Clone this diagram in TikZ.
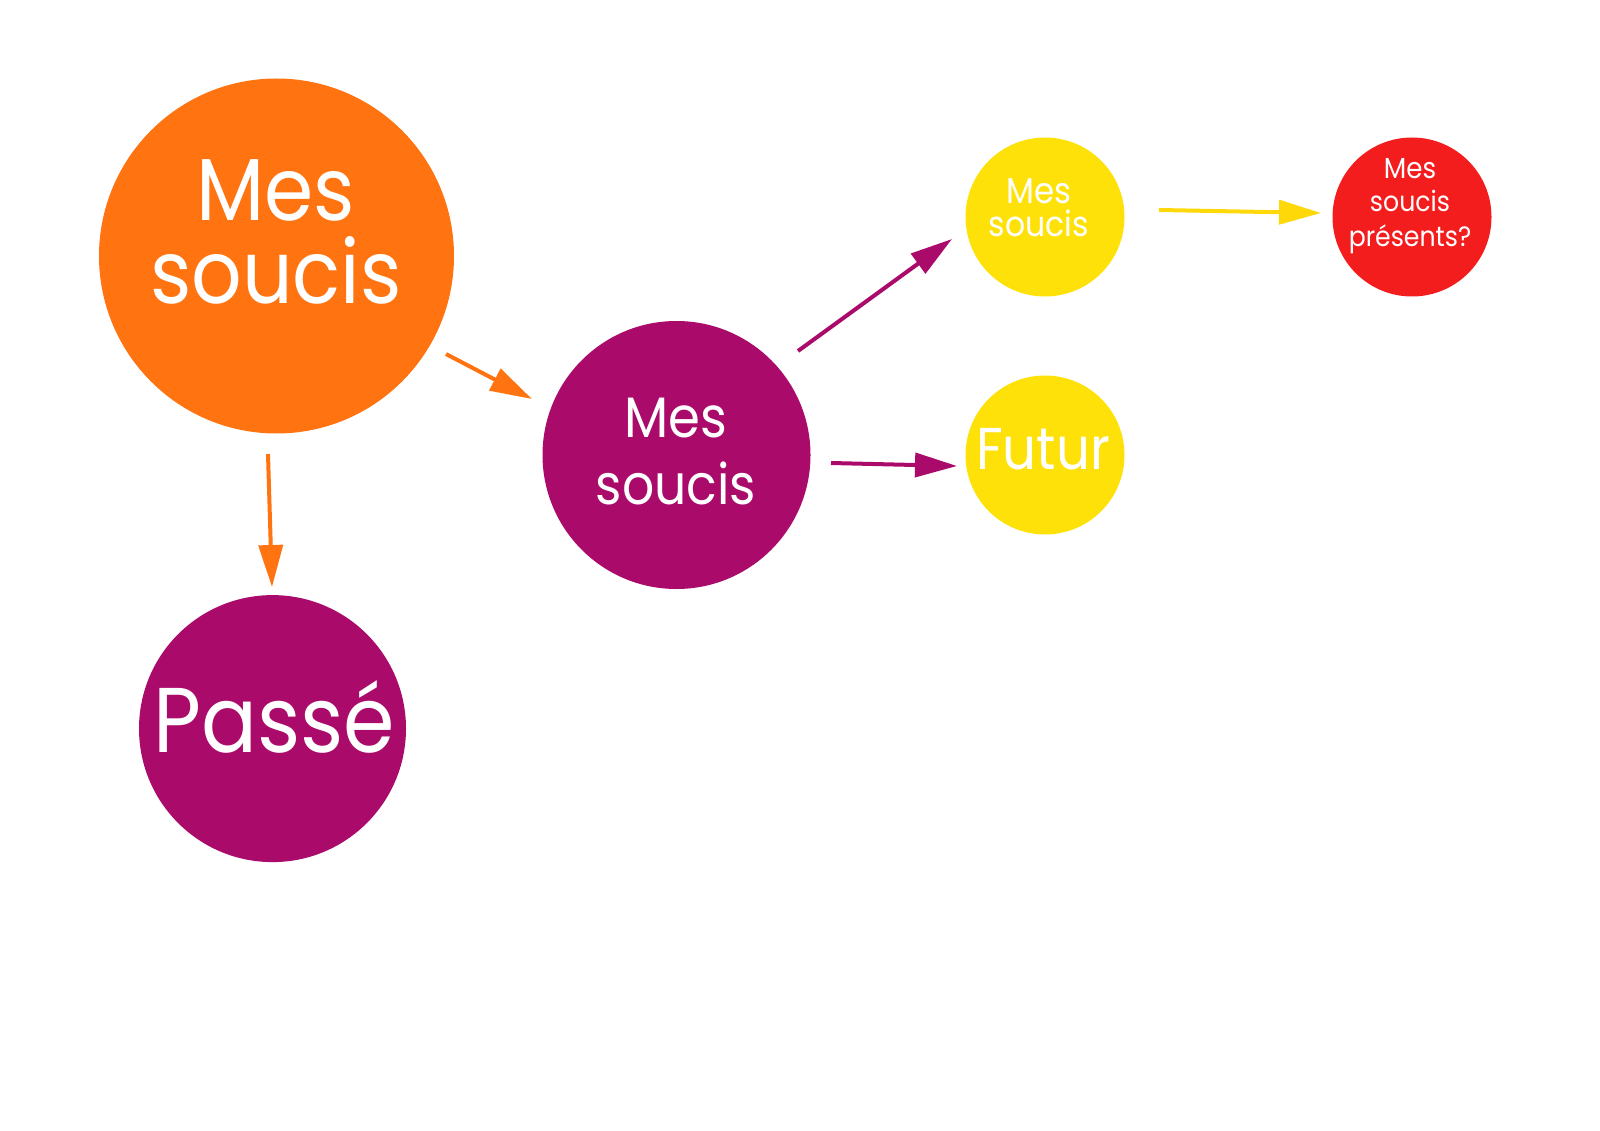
\documentclass[tikz,border=0pt]{standalone}
\usepackage{fontspec}
\setmainfont{Poppins}[FakeStretch=0.9]
\usetikzlibrary{arrows.meta}
\definecolor{cOrange}{HTML}{FF7410}
\definecolor{cMag}{HTML}{AA0A69}
\definecolor{cYel}{HTML}{FFE10A}
\definecolor{cYelArr}{HTML}{FFD80A}
\definecolor{cRed}{HTML}{F41D1E}
\tikzset{
  blob/.style={circle, inner sep=0pt, minimum size=#1},
  lbl/.style={anchor=base, text=white, inner sep=0pt, font=\fontsize{#1}{#1}\selectfont},
  arr/.style={line width=4pt, -{Triangle[length=42pt, width=24pt]}},
}
\begin{document}
\begin{tikzpicture}[x=1pt,y=-1pt]
\useasboundingbox (0,0) rectangle (1600,1131);
% circles
\node[blob=355pt, fill=cOrange] (big) at (276.5,256) {};
\node[blob=267pt, fill=cMag] (past) at (272.5,728.6) {};
\node[blob=268pt, fill=cMag] (mid) at (676.5,455) {};
\node[blob=159pt, fill=cYel] (ytop) at (1045,217) {};
\node[blob=159pt, fill=cYel] (fut) at (1045,455) {};
\node[blob=159pt, fill=cRed] (red) at (1412,217) {};
% texts
\node[anchor=base, text=white, inner sep=0pt, align=center,
      font=\fontsize{88}{83}\selectfont] (b1) at (276,304) {Mes\\soucis};
\node[lbl=92] (p1) at (274,752) {Passé};
\node[lbl=57] (m1) at (676,437) {Mes};
\node[lbl=56] (m2) at (676,504) {soucis};
\node[lbl=36] (y1) at (1039,204) {Mes};
\node[lbl=35] (y2) at (1039,237) {soucis};
\node[lbl=59] (f1) at (1043,469) {Futur};
\node[lbl=29] (r1) at (1410,178.6) {Mes};
\node[lbl=28] (r2) at (1410,212) {soucis};
\node[lbl=28] (r3) at (1410,247) {présents?};
% arrow ends
\coordinate (a1s) at (446,354);
\coordinate (a1e) at (532,399);
\coordinate (a2s) at (268,454);
\coordinate (a2e) at (272,587);
\coordinate (a3s) at (798,351);
\coordinate (a3e) at (952,239);
\coordinate (a4s) at (831,463);
\coordinate (a4e) at (957,466);
\coordinate (a5s) at (1159,210);
\coordinate (a5e) at (1321,213);
\draw[arr, draw=cOrange, fill=cOrange] (a1s) -- (a1e);
\draw[arr, draw=cOrange, fill=cOrange] (a2s) -- (a2e);
\draw[arr, draw=cMag, fill=cMag] (a3s) -- (a3e);
\draw[arr, draw=cMag, fill=cMag] (a4s) -- (a4e);
\draw[arr, draw=cYelArr, fill=cYelArr] (a5s) -- (a5e);
\end{tikzpicture}
\end{document}
